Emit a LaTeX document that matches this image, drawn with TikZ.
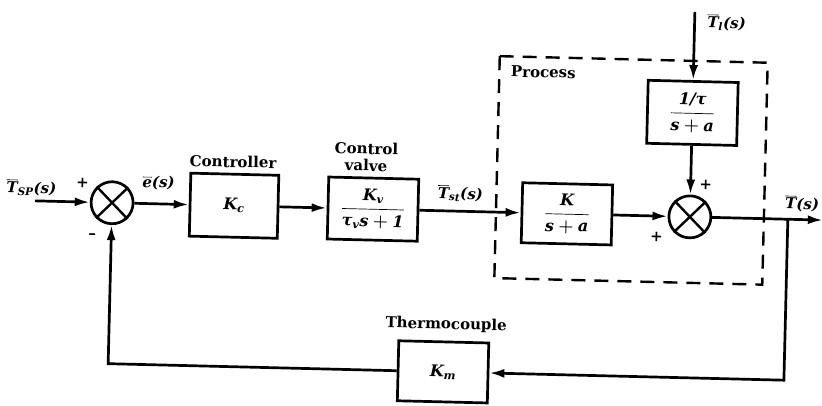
\documentclass[tikz,border=0pt]{standalone}
\usepackage{amsmath}
\usepackage{fontspec}
\setmainfont{DejaVu Serif}
\usetikzlibrary{arrows.meta}
\newcommand\ti[1]{\text{\itshape #1}}
\begin{document}
\begin{tikzpicture}[x=1pt,y=-1pt,
  every node/.style={font=\fontsize{15}{17}\selectfont\bfseries\boldmath},
  blk/.style={draw, line width=2.7pt, minimum width=90pt, minimum height=62pt, inner sep=2pt,
    font=\fontsize{16}{18}\selectfont\bfseries\boldmath},
  sumj/.style={draw, circle, line width=2.7pt, minimum size=42pt, inner sep=0pt},
  sig/.style={line width=2.7pt, -{Latex[length=15pt,width=9pt]}},
  crossln/.style={line width=2.4pt},
  procbox/.style={line width=2.4pt, dash pattern=on 14pt off 9pt},
  lbl/.style={inner sep=1pt}
]
\useasboundingbox (0,0) rectangle (822,406);
\begin{scope}[rotate around={-1.4:(450,210)}, transform shape]
  % blocks
  \node[sumj] (s1) at (112,211) {};
  \draw[crossln] (s1.north east) -- (s1.south west) (s1.north west) -- (s1.south east);
  \node[blk, minimum width=88pt, minimum height=63pt] (ctrl) at (234,211) {$\ti{K}_{\ti{c}}$};
  \node[blk] (valve) at (373,211) {$\dfrac{\ti{K}_{\ti{v}}}{\ti{τ}_{\ti{v}}\ti{s}+\ti{1}}$};
  \node[blk, minimum height=60pt] (pk) at (567,211) {$\dfrac{\ti{K}}{\ti{s}+\ti{a}}$};
  \node[blk, minimum height=63pt] (load) at (690,107) {$\dfrac{\ti{1/τ}}{\ti{s}+\ti{a}}$};
  \node[sumj] (s2) at (690,211) {};
  \draw[crossln] (s2.north east) -- (s2.south west) (s2.north west) -- (s2.south east);
  \node[blk, minimum height=60pt] (km) at (447,372) {$\ti{K}_{\ti{m}}$};
  % process boundary
  \draw[procbox] (496,55) rectangle (764,277);
  % free ends
  \coordinate (tsp) at (35,211);
  \coordinate (tin) at (690,6);
  \coordinate (tap) at (788,211);
  \coordinate (out) at (823,211);
  % connectors
  \draw[sig] (tsp) -- (s1);
  \draw[sig] (s1) -- (ctrl);
  \draw[sig] (ctrl) -- (valve);
  \draw[sig] (valve) -- (pk);
  \draw[sig] (pk) -- (s2);
  \draw[sig] (tin) -- (load);
  \draw[sig] (load) -- (s2);
  \draw[sig] (s2) -- (out);
  \draw[sig] (tap) |- (km);
  \draw[sig] (km) -| (s1);
  % labels
  \node[lbl] (lsp) at (31,198) {$\overline{\ti{T}}_{\ti{SP}}\ti{(s)}$};
  \node[lbl] (p1) at (82,192) {+};
  \node[lbl] (m1) at (93,245) {–};
  \node[lbl] (le) at (158,190) {$\overline{\ti{e}}\ti{(s)}$};
  \node[lbl] (lctrl) at (232,167) {Controller};
  \node[lbl, align=center] (lvalve) at (365,159) {Control\\valve};
  \node[lbl] (lst) at (460,193) {$\overline{\ti{T}}_{\ti{st}}\ti{(s)}$};
  \node[lbl] (lproc) at (540,70) {Process};
  \node[lbl] (ll) at (722,16) {$\overline{\ti{T}}_{\ti{l}}\ti{(s)}$};
  \node[lbl] (p2) at (705,179) {+};
  \node[lbl] (p3) at (657,232) {+};
  \node[lbl, anchor=east] (lt) at (820,195) {$\overline{\ti{T}}\ti{(s)}$};
  \node[lbl] (lthermo) at (449,325) {Thermocouple};
\end{scope}
\end{tikzpicture}
\end{document}
